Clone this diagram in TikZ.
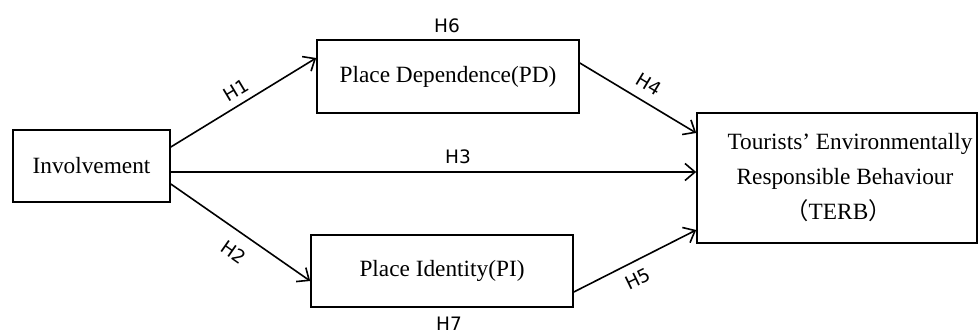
\documentclass[tikz,border=0pt]{standalone}
\usepackage{fontspec}
\setmainfont{Liberation Serif}
\newfontfamily\labfont{DejaVu Sans}
\newfontfamily\cjk{Noto Sans CJK SC}
\usetikzlibrary{arrows.meta}
\begin{document}
\begin{tikzpicture}[x=1pt,y=1pt,
  box/.style={draw, line width=1.6pt, inner sep=0pt, align=center,
    font=\fontsize{23.3}{35}\selectfont},
  arr/.style={line width=1.6pt, -{Straight Barb[length=10pt,width=17pt,line width=1.6pt]}},
  hlab/.style={font=\labfont\fontsize{18.5}{20}\selectfont, inner sep=0pt}]
\useasboundingbox (0,0) rectangle (979,332);
\node[box, minimum width=157pt, minimum height=72pt] (inv) at (91.5,166) {Involvement};
\node[box, minimum width=262pt, minimum height=73pt] (pd) at (448,255.5) {Place Dependence(PD)};
\node[box, minimum width=262pt, minimum height=72pt] (pi) at (442,61) {Place Identity(PI)};
\node[box, minimum width=280pt, minimum height=130pt] (terb) at (837,154)
  {\hspace*{26pt}Tourists’ Environmentally\\\hspace*{16pt}Responsible Behaviour\\\hspace*{3pt}{\cjk （}TERB{\cjk ）}};
\draw[arr] ([yshift=19pt]inv.east) -- ([yshift=18.5pt]pd.west);
\draw[arr] ([yshift=-18pt]inv.east) -- ([yshift=-10pt]pi.west);
\draw[arr] ([yshift=-6pt]inv.east) -- ([yshift=6pt]terb.west);
\draw[arr] ([yshift=13.5pt]pd.east) -- ([yshift=45pt]terb.west);
\draw[arr] ([yshift=-21pt]pi.east) -- ([yshift=-52pt]terb.west);
\node[hlab, rotate=31] (h1) at (236,242) {H1};
\node[hlab, rotate=-35] (h2) at (234,80) {H2};
\node[hlab] (h3) at (458,175) {H3};
\node[hlab, rotate=-31] (h4) at (649,248) {H4};
\node[hlab, rotate=26] (h5) at (638,53) {H5};
\node[hlab] (h6) at (447,306) {H6};
\node[hlab] (h7) at (449,8) {H7};
\end{tikzpicture}
\end{document}
